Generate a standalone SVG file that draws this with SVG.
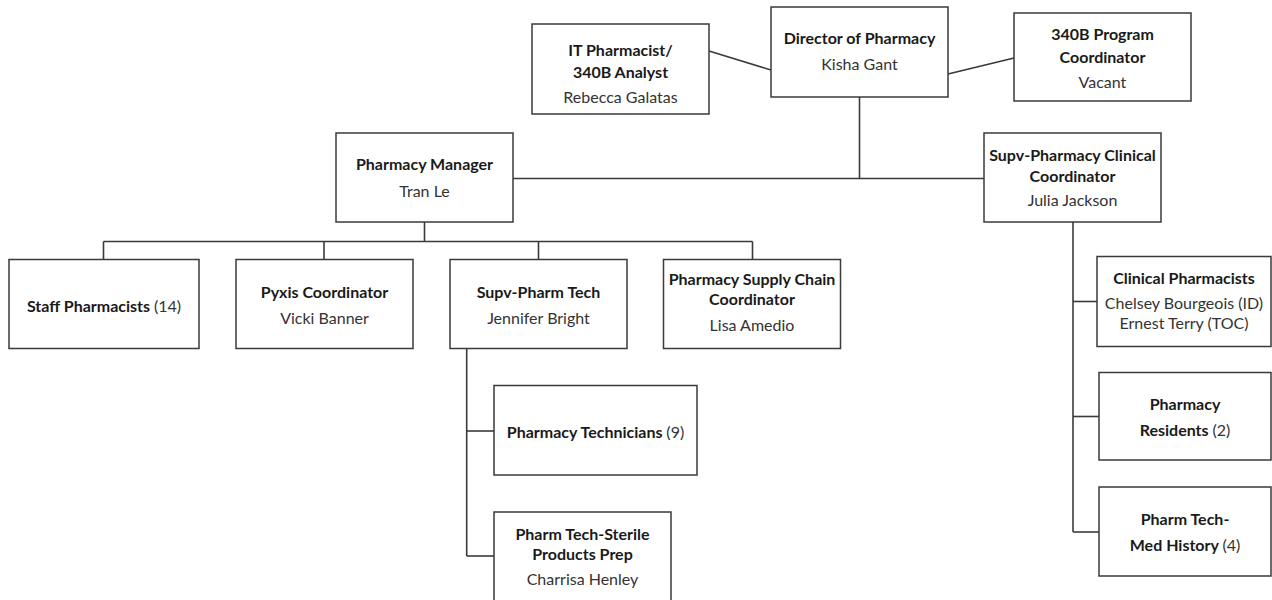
<svg xmlns="http://www.w3.org/2000/svg" width="1272" height="600" viewBox="0 0 1272 600">
<style>
.bg{fill:#ffffff}
.box{fill:#ffffff;stroke:#3a3a3a;stroke-width:1.5}
.ln{stroke:#3a3a3a;stroke-width:1.6;fill:none}
text{font-family:Lato,"Open Sans","Liberation Sans",sans-serif;font-size:16px;fill:#1a1a1a;text-anchor:middle}
.b{font-weight:bold}
.r{font-weight:normal;fill:#333333}
</style>
<rect class="bg" x="0" y="0" width="1272" height="600"/>
<g id="connectors">
<line class="ln" x1="709" y1="51" x2="771" y2="70"/>
<line class="ln" x1="948" y1="74" x2="1014" y2="58"/>
<line class="ln" x1="859.5" y1="97" x2="859.5" y2="178.5"/>
<line class="ln" x1="512.5" y1="178.5" x2="984" y2="178.5"/>
<line class="ln" x1="424.5" y1="222" x2="424.5" y2="241.5"/>
<line class="ln" x1="103.5" y1="241.5" x2="752.5" y2="241.5"/>
<line class="ln" x1="103.5" y1="241.5" x2="103.5" y2="259.5"/>
<line class="ln" x1="324" y1="241.5" x2="324" y2="259.5"/>
<line class="ln" x1="538.5" y1="241.5" x2="538.5" y2="259.5"/>
<line class="ln" x1="752.5" y1="241.5" x2="752.5" y2="259.5"/>
<line class="ln" x1="466.7" y1="349" x2="466.7" y2="556"/>
<line class="ln" x1="466.7" y1="431" x2="494" y2="431"/>
<line class="ln" x1="466.7" y1="556" x2="494" y2="556"/>
<line class="ln" x1="1073" y1="222" x2="1073" y2="532"/>
<line class="ln" x1="1073" y1="301.5" x2="1097" y2="301.5"/>
<line class="ln" x1="1073" y1="416.5" x2="1099" y2="416.5"/>
<line class="ln" x1="1073" y1="532" x2="1099" y2="532"/>
</g>
<g id="it-pharmacist">
<rect class="box" x="532" y="24" width="177" height="90"/>
<text class="b" x="620.5" y="56">IT Pharmacist/</text>
<text class="b" x="620.5" y="78">340B Analyst</text>
<text class="r" x="620.5" y="103">Rebecca Galatas</text>
</g>
<g id="director">
<rect class="box" x="771" y="7" width="177" height="90"/>
<text class="b" x="859.5" y="44">Director of Pharmacy</text>
<text class="r" x="859.5" y="70">Kisha Gant</text>
</g>
<g id="program-coordinator">
<rect class="box" x="1014" y="13" width="177" height="88"/>
<text class="b" x="1102.5" y="40">340B Program</text>
<text class="b" x="1102.5" y="63">Coordinator</text>
<text class="r" x="1102.5" y="88">Vacant</text>
</g>
<g id="pharmacy-manager">
<rect class="box" x="336" y="133" width="177" height="89"/>
<text class="b" x="424.5" y="170">Pharmacy Manager</text>
<text class="r" x="424.5" y="197">Tran Le</text>
</g>
<g id="clinical-coordinator">
<rect class="box" x="984" y="133" width="177" height="89"/>
<text class="b" x="1072.5" y="161">Supv-Pharmacy Clinical</text>
<text class="b" x="1072.5" y="182">Coordinator</text>
<text class="r" x="1072.5" y="206">Julia Jackson</text>
</g>
<g id="staff-pharmacists">
<rect class="box" x="9" y="259.5" width="190" height="89"/>
<text class="b" x="104" y="312">Staff Pharmacists <tspan class="r">(14)</tspan></text>
</g>
<g id="pyxis">
<rect class="box" x="236" y="259.5" width="177" height="89"/>
<text class="b" x="324.5" y="298">Pyxis Coordinator</text>
<text class="r" x="324.5" y="324">Vicki Banner</text>
</g>
<g id="supv-pharm-tech">
<rect class="box" x="450" y="259.5" width="177" height="89"/>
<text class="b" x="538.5" y="298">Supv-Pharm Tech</text>
<text class="r" x="538.5" y="324">Jennifer Bright</text>
</g>
<g id="supply-chain">
<rect class="box" x="663.5" y="259.5" width="177" height="89"/>
<text class="b" x="752" y="285">Pharmacy Supply Chain</text>
<text class="b" x="752" y="305">Coordinator</text>
<text class="r" x="752" y="331">Lisa Amedio</text>
</g>
<g id="pharmacy-technicians">
<rect class="box" x="494" y="385.5" width="203" height="89.5"/>
<text class="b" x="595.5" y="438">Pharmacy Technicians <tspan class="r">(9)</tspan></text>
</g>
<g id="sterile-products">
<rect class="box" x="494" y="512" width="177" height="92"/>
<text class="b" x="582.5" y="540">Pharm Tech-Sterile</text>
<text class="b" x="582.5" y="560">Products Prep</text>
<text class="r" x="582.5" y="585">Charrisa Henley</text>
</g>
<g id="clinical-pharmacists">
<rect class="box" x="1097" y="256.5" width="174" height="90"/>
<text class="b" x="1184" y="284">Clinical Pharmacists</text>
<text class="r" x="1184" y="309">Chelsey Bourgeois (ID)</text>
<text class="r" x="1184" y="329">Ernest Terry (TOC)</text>
</g>
<g id="residents">
<rect class="box" x="1099" y="372.5" width="172" height="87.5"/>
<text class="b" x="1185" y="410">Pharmacy</text>
<text class="b" x="1185" y="436">Residents <tspan class="r">(2)</tspan></text>
</g>
<g id="med-history">
<rect class="box" x="1099" y="487" width="172" height="89"/>
<text class="b" x="1185" y="525">Pharm Tech-</text>
<text class="b" x="1185" y="551">Med History <tspan class="r">(4)</tspan></text>
</g>
</svg>
